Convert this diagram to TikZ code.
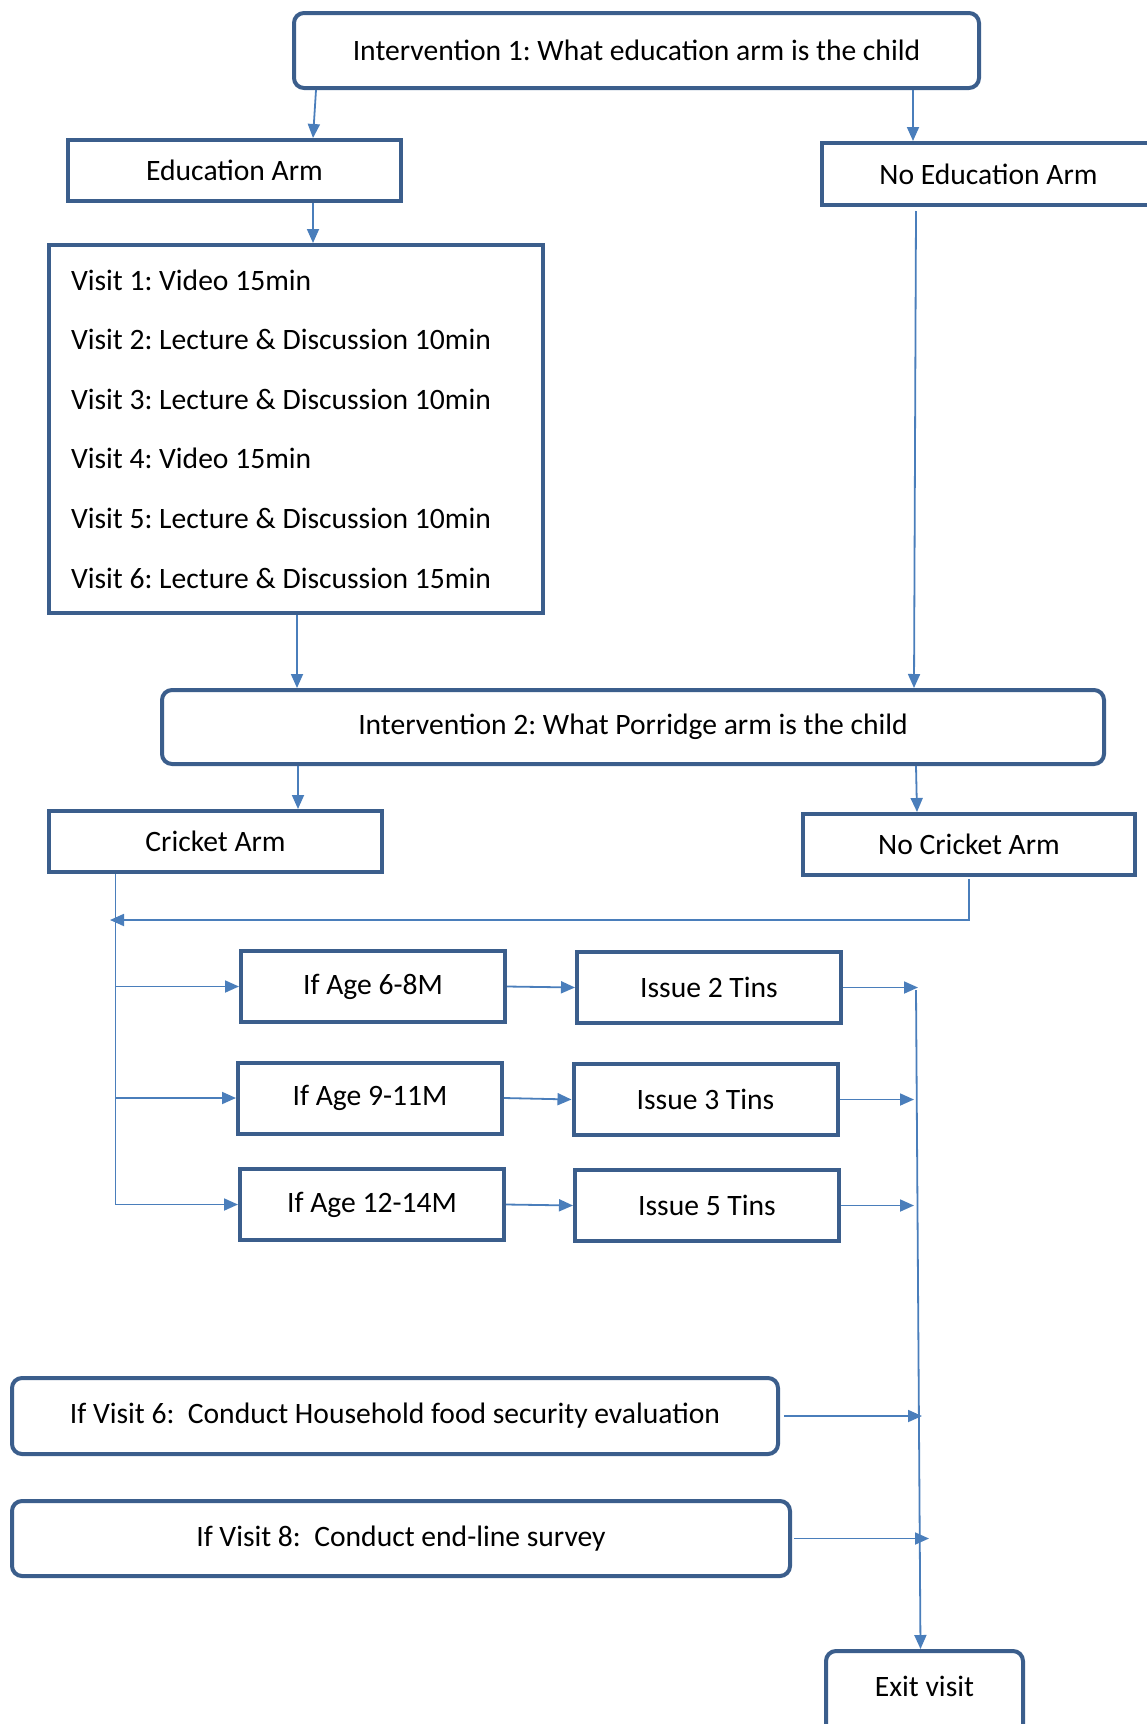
\documentclass[tikz,border=0pt]{standalone}
\usepackage{fontspec}
\setmainfont{Carlito}
\frenchspacing
\usetikzlibrary{arrows.meta}
\definecolor{boxblue}{RGB}{59,94,140}
\definecolor{lineblue}{RGB}{74,126,187}

\begin{document}
\begin{tikzpicture}
[every node/.style={inner sep=0pt, font=\fontsize{14.8pt}{18pt}\selectfont},
 sqbox/.style={rectangle, draw=boxblue, line width=2pt, fill=white, minimum width=166.5pt, minimum height=30.5pt},
 agebox/.style={sqbox, minimum width=132pt, minimum height=35.5pt},
 rndbox/.style={sqbox, rounded corners=5pt, minimum height=37.5pt},
 conn/.style={draw=lineblue, line width=0.9pt, -{Triangle[length=7pt,width=6pt]}}]
\useasboundingbox (0pt,0pt) rectangle (573pt,-862pt);
\node (int1) [rndbox, minimum width=342.5pt] at (318.25pt, -25.25pt) {Intervention 1: What education arm is the child};
\node (edu) [sqbox] at (117.25pt, -85.25pt) {Education Arm};
\node (noedu) [sqbox, minimum height=31pt] at (494.25pt, -87pt) {No Education Arm};
\node (visits) [sqbox, minimum width=247pt, minimum height=184pt, text width=225pt, align=flush left, font=\fontsize{14.8pt}{29.8pt}\selectfont] at (148pt, -214.5pt)
  {Visit 1: Video 15min\\ Visit 2: Lecture \& Discussion 10min\\ Visit 3: Lecture \& Discussion 10min\\ Visit 4: Video 15min\\ Visit 5: Lecture \& Discussion 10min\\ Visit 6: Lecture \& Discussion 15min};
\node (int2) [rndbox, minimum width=471pt, minimum height=37pt] at (316.5pt, -363.5pt) {Intervention 2: What Porridge arm is the child};
\node (cricket) [sqbox] at (107.75pt, -420.75pt) {Cricket Arm};
\node (nocricket) [sqbox, minimum width=166pt] at (484.5pt, -422.25pt) {No Cricket Arm};
\node (age1) [agebox] at (186.5pt, -493.25pt) {If Age 6-8M};
\node (age2) [agebox] at (185pt, -549pt) {If Age 9-11M};
\node (age3) [agebox] at (186pt, -602.25pt) {If Age 12-14M};
\node (tin1) [agebox] at (354.5pt, -493.75pt) {Issue 2 Tins};
\node (tin2) [agebox] at (352.75pt, -549.75pt) {Issue 3 Tins};
\node (tin3) [agebox] at (353.5pt, -602.75pt) {Issue 5 Tins};
\node (hfs) [rndbox, minimum width=383pt, minimum height=38pt] at (197.5pt, -708pt) {If Visit 6:~ Conduct Household food security evaluation};
\node (endline) [rndbox, minimum width=389pt] at (200.5pt, -769.25pt) {If Visit 8:~ Conduct end-line survey};
\node (exit) [rndbox, minimum width=98.5pt, minimum height=42pt, text depth=7pt] at (462.25pt, -846.5pt) {Exit visit};
% helper points
\coordinate (merge) at (55pt, -460pt);
\coordinate (spine) at ([xshift=-50pt]cricket.south);
\coordinate (rtop) at (458pt, -495pt);
% top half
\draw [conn] ([xshift=-160.25pt]int1.south) to ([xshift=39.25pt]edu.north);
\draw [conn] ([xshift=138.25pt]int1.south) to ([xshift=-37.75pt]noedu.north);
\draw [conn] ([xshift=39.25pt]edu.south) to ([xshift=8.5pt]visits.north);
\draw [conn] ([xshift=0.5pt]visits.south) to ([xshift=-168pt]int2.north);
\draw [conn] ([xshift=-36.25pt, yshift=-2pt]noedu.south) to ([xshift=140.5pt]int2.north);
\draw [conn] ([xshift=-167.5pt]int2.south) to ([xshift=41.25pt]cricket.north);
\draw [conn] ([xshift=141.5pt]int2.south) to ([xshift=-26pt]nocricket.north);
% porridge branches
\draw [conn] ([yshift=-1pt]nocricket.south) |- (merge);
\draw [conn] (spine) |- (age3.west);
\draw [conn] (spine |- age1.west) to (age1.west);
\draw [conn] (spine |- age2.west) to (age2.west);
\draw [conn] (age1.east) to (tin1.west);
\draw [conn] (age2.east) to (tin2.west);
\draw [conn] (age3.east) to (tin3.west);
\draw [conn] (tin1.east) to ([xshift=1pt]tin1.east -| rtop);
\draw [conn] (tin2.east) to ([xshift=-1pt]tin2.east -| rtop);
\draw [conn] (tin3.east) to ([xshift=-1pt]tin3.east -| rtop);
\draw [conn] ([xshift=2pt]hfs.east) to ([xshift=3pt]hfs.east -| rtop);
\draw [conn] ([xshift=1pt]endline.east) to ([xshift=6.5pt]endline.east -| rtop);
\draw [conn] (rtop) to ([xshift=-2pt]exit.north);
\end{tikzpicture}
\end{document}
